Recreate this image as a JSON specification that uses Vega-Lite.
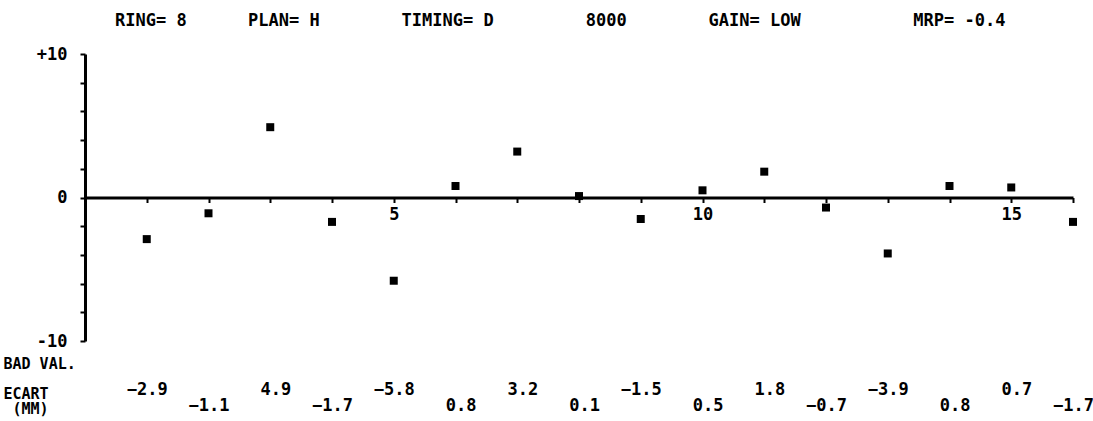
{
  "$schema": "https://vega.github.io/schema/vega-lite/v6.json",
  "width": 988,
  "height": 287,
  "autosize": "none",
  "padding": {"left": 85, "top": 54, "right": 20, "bottom": 80},
  "background": "white",
  "title": {
    "text": "RING=\u00a08\u00a0\u00a0\u00a0\u00a0\u00a0\u00a0PLAN=\u00a0H\u00a0\u00a0\u00a0\u00a0\u00a0\u00a0\u00a0\u00a0TIMING=\u00a0D\u00a0\u00a0\u00a0\u00a0\u00a0\u00a0\u00a0\u00a0\u00a08000\u00a0\u00a0\u00a0\u00a0\u00a0\u00a0\u00a0\u00a0GAIN=\u00a0LOW\u00a0\u00a0\u00a0\u00a0\u00a0\u00a0\u00a0\u00a0\u00a0\u00a0\u00a0MRP=\u00a0-0.4",
    "anchor": "start",
    "frame": "group",
    "dx": 30,
    "offset": 15,
    "font": "DejaVu Sans Mono",
    "fontSize": 17,
    "fontWeight": "bold",
    "color": "black"
  },
  "data": {
    "values": [
      {"pos": 1, "ecart": -2.9},
      {"pos": 2, "ecart": -1.1},
      {"pos": 3, "ecart": 4.9},
      {"pos": 4, "ecart": -1.7},
      {"pos": 5, "ecart": -5.8},
      {"pos": 6, "ecart": 0.8},
      {"pos": 7, "ecart": 3.2},
      {"pos": 8, "ecart": 0.1},
      {"pos": 9, "ecart": -1.5},
      {"pos": 10, "ecart": 0.5},
      {"pos": 11, "ecart": 1.8},
      {"pos": 12, "ecart": -0.7},
      {"pos": 13, "ecart": -3.9},
      {"pos": 14, "ecart": 0.8},
      {"pos": 15, "ecart": 0.7},
      {"pos": 16, "ecart": -1.7}
    ]
  },
  "layer": [
    {
      "mark": {"type": "point", "shape": "square", "filled": true, "size": 64, "color": "black", "opacity": 1},
      "encoding": {
        "x": {
          "field": "pos",
          "type": "quantitative",
          "scale": {"domain": [0, 16], "nice": false, "zero": false},
          "axis": {
            "orient": "bottom",
            "offset": -143.5,
            "title": null,
            "values": [1, 2, 3, 4, 5, 6, 7, 8, 9, 10, 11, 12, 13, 14, 15, 16],
            "format": "d",
            "labelExpr": "datum.value % 5 == 0 ? datum.label : ''",
            "labelOverlap": false,
            "labelFlush": false,
            "tickSize": 5,
            "tickWidth": 2,
            "domainWidth": 3,
            "labelPadding": 4
          }
        },
        "y": {
          "field": "ecart",
          "type": "quantitative",
          "scale": {"domain": [-10, 10], "nice": false},
          "axis": {
            "orient": "left",
            "values": [-10, -8, -6, -4, -2, 0, 2, 4, 6, 8, 10],
            "labels": false,
            "tickSize": 5,
            "tickWidth": 2,
            "domainWidth": 3,
            "title": ["BAD VAL.", "\u200b", "ECART", "\u200b\u00a0(MM)"],
            "titleAngle": 0,
            "titleAlign": "left",
            "titleBaseline": "middle",
            "titleX": -82,
            "titleY": 309,
            "titleLineHeight": 15,
            "titleFont": "DejaVu Sans Mono",
            "titleFontSize": 15,
            "titleFontWeight": "bold",
            "titleColor": "black"
          }
        }
      }
    },
    {
      "transform": [{"filter": "datum.pos % 2 == 1"}],
      "mark": {"type": "text", "align": "right", "baseline": "middle", "dx": 21, "dy": 49, "font": "DejaVu Sans Mono", "fontSize": 17, "fontWeight": "bold", "color": "black"},
      "encoding": {
        "x": {"field": "pos", "type": "quantitative"},
        "y": {
          "datum": -10,
          "type": "quantitative",
          "scale": {"domain": [-10, 10], "nice": false},
          "axis": {
            "orient": "left",
            "values": [-10, 0, 10],
            "format": "d",
            "labelExpr": "datum.value > 9 ? '+10' : (datum.value < -9 ? '-10' : '0')",
            "domain": false,
            "ticks": false,
            "labelPadding": 18,
            "title": null
          }
        },
        "text": {"field": "ecart", "type": "quantitative", "format": ".1f"}
      }
    },
    {
      "transform": [{"filter": "datum.pos % 2 == 0"}],
      "mark": {"type": "text", "align": "right", "baseline": "middle", "dx": 21, "dy": 65, "font": "DejaVu Sans Mono", "fontSize": 17, "fontWeight": "bold", "color": "black"},
      "encoding": {
        "x": {"field": "pos", "type": "quantitative"},
        "y": {"datum": -10, "type": "quantitative", "scale": {"domain": [-10, 10], "nice": false}, "axis": null},
        "text": {"field": "ecart", "type": "quantitative", "format": ".1f"}
      }
    }
  ],
  "resolve": {"axis": {"y": "independent"}},
  "config": {
    "view": {"stroke": null},
    "axis": {
      "grid": false,
      "labelOverlap": false,
      "domainColor": "black",
      "tickColor": "black",
      "labelColor": "black",
      "labelFont": "DejaVu Sans Mono",
      "labelFontSize": 17,
      "labelFontWeight": "bold"
    }
  }
}
